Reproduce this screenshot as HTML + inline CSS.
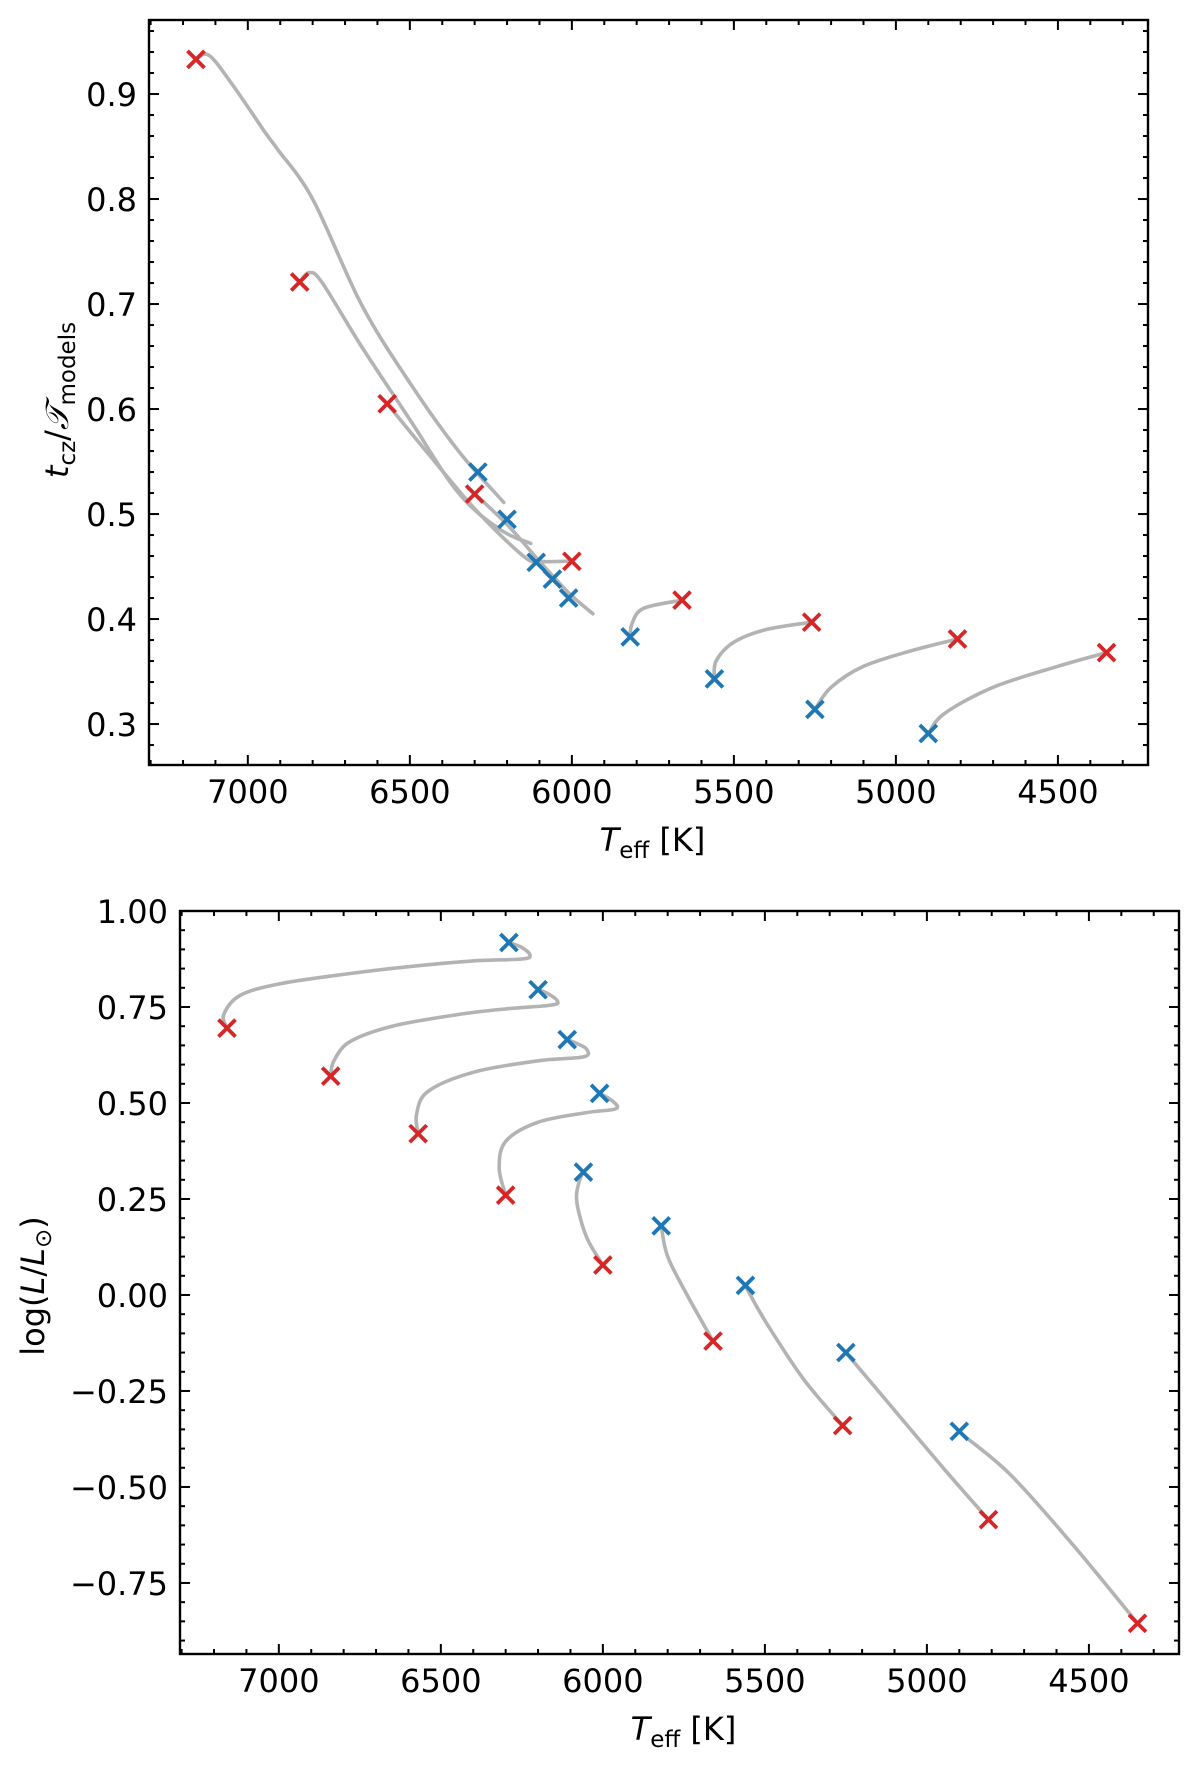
<!DOCTYPE html>
<html><head><meta charset="utf-8"><style>
html,body{margin:0;padding:0;background:#fff}
svg{display:block;font-family:"DejaVu Sans","Liberation Sans",sans-serif}
</style></head><body>
<svg id="fig" width="1200" height="1765" viewBox="0 0 1200 1765" xmlns="http://www.w3.org/2000/svg"></svg>
<script>
// ---- Top panel data: t_cz / T_models ----
const topRedT = [7160,6840,6570,6300,6000,5660,5260,4810,4350];
const topRedV = [0.933,0.721,0.605,0.519,0.455,0.418,0.397,0.381,0.368];
const topBlueT = [6290,6200,6110,6060,6010,5820,5560,5250,4900];
const topBlueV = [0.540,0.495,0.454,0.438,0.420,0.383,0.343,0.314,0.291];
const topTrackT = [
 [7160,7120,7050,6950,6910,6800,6650,6500,6350,6210],
 [6840,6810,6770,6650,6500,6350,6220,6127],
 [6570,6450,6300,6150,6100,6020,6000],
 [6320,6200,6100,6010,5935],
 [5820,5815,5780,5660],
 [5560,5555,5500,5400,5260],
 [5250,5200,5100,4950,4810],
 [4900,4850,4700,4500,4350]
];
const topTrackV = [
 [0.933,0.937,0.91,0.865,0.848,0.80,0.70,0.625,0.56,0.511],
 [0.721,0.73,0.72,0.66,0.59,0.52,0.485,0.472],
 [0.605,0.56,0.505,0.46,0.455,0.455,0.455],
 [0.525,0.49,0.455,0.425,0.405],
 [0.383,0.395,0.41,0.418],
 [0.343,0.36,0.378,0.39,0.397],
 [0.314,0.335,0.355,0.37,0.381],
 [0.291,0.31,0.335,0.355,0.368]
];
// ---- Bottom panel data: log(L/Lsun) ----
const botRedT = [7160,6840,6570,6300,6000,5660,5260,4810,4350];
const botRedV = [0.695,0.570,0.420,0.260,0.078,-0.120,-0.340,-0.585,-0.855];
const botBlueT = [6290,6200,6110,6010,6060,5820,5560,5250,4900];
const botBlueV = [0.918,0.795,0.665,0.525,0.320,0.180,0.025,-0.150,-0.355];
const botTrackT = [
 [7160,7170,7120,7000,6800,6600,6400,6250,6225,6250,6290],
 [6840,6830,6780,6650,6450,6300,6160,6140,6170,6200],
 [6570,6575,6540,6400,6200,6060,6050,6080,6110],
 [6300,6320,6300,6200,6050,5960,5970,6010],
 [6000,6050,6080,6075,6060],
 [5660,5740,5800,5820],
 [5260,5380,5490,5545,5560],
 [4810,4950,5120,5230,5250],
 [4350,4550,4740,4880,4900]
];
const botTrackV = [
 [0.695,0.73,0.78,0.81,0.835,0.855,0.87,0.875,0.885,0.905,0.918],
 [0.570,0.61,0.66,0.70,0.73,0.745,0.755,0.765,0.785,0.795],
 [0.420,0.47,0.53,0.58,0.61,0.62,0.64,0.655,0.665],
 [0.260,0.33,0.40,0.45,0.475,0.485,0.505,0.525],
 [0.078,0.15,0.24,0.29,0.320],
 [-0.120,0.0,0.10,0.180],
 [-0.340,-0.22,-0.08,0.0,0.025],
 [-0.585,-0.45,-0.28,-0.17,-0.150],
 [-0.855,-0.65,-0.47,-0.37,-0.355]
];
const xTickLabels = ["7000","6500","6000","5500","5000","4500"];
const topYTickLabels = ["0.3","0.4","0.5","0.6","0.7","0.8","0.9"];
const botYTickLabels = ["−0.75","−0.50","−0.25","0.00","0.25","0.50","0.75","1.00"];

const NS="http://www.w3.org/2000/svg";
const svg=document.getElementById('fig');
function mk(tag,attrs,parent){const e=document.createElementNS(NS,tag);for(const k in attrs)e.setAttribute(k,attrs[k]);(parent||svg).appendChild(e);return e;}
function smooth(P){
  if(P.length<3)return 'M'+P.map(p=>p.join(',')).join('L');
  let d=`M${P[0][0].toFixed(1)},${P[0][1].toFixed(1)}`;
  for(let i=0;i<P.length-1;i++){
    const p0=P[Math.max(0,i-1)],p1=P[i],p2=P[i+1],p3=P[Math.min(P.length-1,i+2)];
    const c1=[p1[0]+(p2[0]-p0[0])/6,p1[1]+(p2[1]-p0[1])/6];
    const c2=[p2[0]-(p3[0]-p1[0])/6,p2[1]-(p3[1]-p1[1])/6];
    d+=`C${c1[0].toFixed(1)},${c1[1].toFixed(1)} ${c2[0].toFixed(1)},${c2[1].toFixed(1)} ${p2[0].toFixed(1)},${p2[1].toFixed(1)}`;
  }
  return d;
}

function panel(cfg){
  const g=mk('g',{});
  
  
  const X=t=>cfg.x0+(cfg.tmax-t)/(cfg.tmax-cfg.tmin)*cfg.w;
  const Y=v=>cfg.y0+(cfg.vmax-v)/(cfg.vmax-cfg.vmin)*cfg.h;
  cfg.trT.forEach((ts,i)=>{
    const P=ts.map((t,j)=>[X(t),Y(cfg.trV[i][j])]);
    const p=mk('path',{d:smooth(P),fill:'none',stroke:'#b3b3b3','stroke-width':3.6,'stroke-linejoin':'round','stroke-linecap':'round'},g);
    
    
  });
  function marker(t,v,col,nm){
    const cx=X(t),cy=Y(v),s=8.5;
    const m=mk('path',{d:`M${cx-s},${cy-s}L${cx+s},${cy+s}M${cx-s},${cy+s}L${cx+s},${cy-s}`,stroke:col,'stroke-width':3.8,fill:'none'},g);
    
    
  }
  cfg.rT.forEach((t,i)=>marker(t,cfg.rV[i],'#d62728','start-marker'));
  cfg.bT.forEach((t,i)=>marker(t,cfg.bV[i],'#1f77b4','end-marker'));
  const f=mk('rect',{x:cfg.x0,y:cfg.y0,width:cfg.w,height:cfg.h,fill:'none',stroke:'#000','stroke-width':2.4},g);
  
  
  const tk=mk('g',{stroke:'#000','stroke-width':2},g);
  
  
  for(let t=4300;t<=7300;t+=100){
    const x=X(t); if(x<cfg.x0||x>cfg.x0+cfg.w)continue;
    const L=(t%500===0)?10:5;
    mk('line',{x1:x,y1:cfg.y0+cfg.h,x2:x,y2:cfg.y0+cfg.h-L},tk);
    mk('line',{x1:x,y1:cfg.y0,x2:x,y2:cfg.y0+L},tk);
  }
  const start=Math.ceil(cfg.vmin/cfg.minor-1e-6);
  for(let k=start;k*cfg.minor<=cfg.vmax+1e-9;k++){
    const v=k*cfg.minor,y=Y(v);
    const isMaj=Math.abs(v/cfg.major-Math.round(v/cfg.major))<1e-6;
    const L=isMaj?10:5;
    mk('line',{x1:cfg.x0,y1:y,x2:cfg.x0+L,y2:y},tk);
    mk('line',{x1:cfg.x0+cfg.w,y1:y,x2:cfg.x0+cfg.w-L,y2:y},tk);
  }
  xTickLabels.forEach(s=>{
    const t=parseFloat(s);
    const tx=mk('text',{x:X(t),y:cfg.y0+cfg.h+38,'font-size':32,'text-anchor':'middle'},g);
    tx.textContent=s;
    
    
  });
  cfg.yl.forEach(s=>{
    const v=parseFloat(s.replace('−','-'));
    const tx=mk('text',{x:cfg.x0-12,y:Y(v)+12,'font-size':32,'text-anchor':'end'},g);
    tx.textContent=s;
    
    
  });
  const xl=mk('text',{x:cfg.x0+cfg.w/2+4,y:cfg.y0+cfg.h+86,'font-size':32,'text-anchor':'middle'},g);
  xl.innerHTML='<tspan font-style="italic">T</tspan><tspan font-size="23" dy="7">eff</tspan><tspan dy="-7"> [K]</tspan>';
  
  
  const yl=mk('text',{x:0,y:0,'font-size':32,'text-anchor':'middle',transform:`translate(${cfg.ylx},${cfg.yly}) rotate(-90)`},g);
  yl.innerHTML=cfg.ylab;
  
  
}
panel({name:'top-panel',x0:149,y0:20,w:999,h:745,tmax:7305,tmin:4222,vmax:0.9705,vmin:0.2610,
  minor:0.02,major:0.1,rT:topRedT,rV:topRedV,bT:topBlueT,bV:topBlueV,trT:topTrackT,trV:topTrackV,yl:topYTickLabels,
  ylx:68,yly:400,ylab:'<tspan font-style="italic">t</tspan><tspan font-size="23" dy="7">cz</tspan><tspan dy="-7">/</tspan><tspan font-style="italic">𝒯</tspan><tspan font-size="23" dy="7">models</tspan>'});
panel({name:'bottom-panel',x0:180,y0:911,w:999,h:743,tmax:7305,tmin:4222,vmax:1.0,vmin:-0.935,
  minor:0.05,major:0.25,rT:botRedT,rV:botRedV,bT:botBlueT,bV:botBlueV,trT:botTrackT,trV:botTrackV,yl:botYTickLabels,
  ylx:44,yly:1286,ylab:'log(<tspan font-style="italic">L</tspan>/<tspan font-style="italic">L</tspan><tspan font-size="23" dy="7">⊙</tspan><tspan dy="-7">)</tspan>'});
</script>
</body></html>
